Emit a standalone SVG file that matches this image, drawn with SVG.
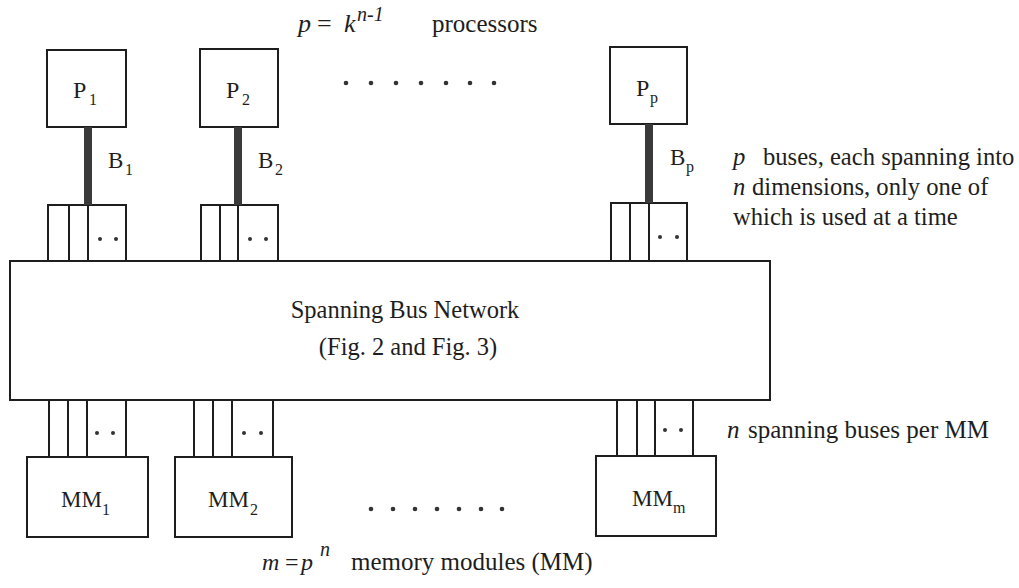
<svg xmlns="http://www.w3.org/2000/svg" width="1019" height="588" viewBox="0 0 1019 588" font-family="Liberation Serif, Times New Roman, DejaVu Serif, serif">
<style>
.box{fill:#fff;stroke:#1e1e1e;stroke-width:2}
.ln{stroke:#1e1e1e;stroke-width:2}
.bus{stroke:#3a3a3a;stroke-width:8}
.dot{fill:#333}
text{font-size:24px;fill:#1e1e1e}
.lb{font-size:23px}
.nt{font-size:24.6px}
.f245{font-size:24.5px}
.f25{font-size:25px}
.f26{font-size:26px}
.i{font-style:italic}
.sub{font-size:16px}
.sup{font-size:20px;font-style:italic}
</style>
<rect width="1019" height="588" fill="#fff"/>

<g id="title">
<text x="298" y="32" class="i f26">p</text>
<text x="317" y="32" class="f26">=</text>
<text x="344" y="32" class="i f26">k</text>
<text x="357" y="21" class="sup">n-1</text>
<text x="432" y="32" class="f25">processors</text>
</g>

<g id="topdots">
<circle class="dot" cx="346" cy="83" r="2.3"/><circle class="dot" cx="371" cy="83" r="2.3"/><circle class="dot" cx="396" cy="83" r="2.3"/><circle class="dot" cx="421" cy="83" r="2.3"/><circle class="dot" cx="446" cy="83" r="2.3"/><circle class="dot" cx="470" cy="83" r="2.3"/><circle class="dot" cx="494" cy="83" r="2.3"/>
</g>

<g id="P1">
<rect class="box" x="47" y="50" width="79" height="77"/>
<text x="73" y="98">P<tspan class="sub" x="89" y="105">1</tspan></text>
<rect class="box" x="48" y="205" width="78" height="56"/>
<line class="ln" x1="69" y1="205" x2="69" y2="261"/><line class="ln" x1="88" y1="205" x2="88" y2="261"/>
<circle class="dot" cx="100" cy="239" r="2"/><circle class="dot" cx="116" cy="239" r="2"/>
</g>

<g id="P2">
<rect class="box" x="200" y="49" width="78" height="78"/>
<text x="226" y="98">P<tspan class="sub" x="242" y="105">2</tspan></text>
<rect class="box" x="201" y="205" width="77" height="56"/>
<line class="ln" x1="220" y1="205" x2="220" y2="261"/><line class="ln" x1="238" y1="205" x2="238" y2="261"/>
<circle class="dot" cx="250" cy="239" r="2"/><circle class="dot" cx="266" cy="239" r="2"/>
</g>

<g id="Pp">
<rect class="box" x="610" y="47" width="77" height="77"/>
<text x="636" y="96">P<tspan class="sub" x="650" y="103">p</tspan></text>
<rect class="box" x="611" y="203" width="76" height="58"/>
<line class="ln" x1="630" y1="203" x2="630" y2="261"/><line class="ln" x1="649" y1="203" x2="649" y2="261"/>
<circle class="dot" cx="660" cy="237" r="2"/><circle class="dot" cx="677" cy="237" r="2"/>
</g>

<g id="network">
<rect class="box" x="10" y="261" width="760" height="139"/>
<text x="405" y="318" text-anchor="middle" class="f245">Spanning Bus Network</text>
<text x="408" y="355" text-anchor="middle" class="f245">(Fig. 2 and Fig. 3)</text>
</g>

<g id="MM1">
<rect class="box" x="49" y="400" width="77" height="57"/>
<line class="ln" x1="68" y1="400" x2="68" y2="457"/><line class="ln" x1="87" y1="400" x2="87" y2="457"/>
<circle class="dot" cx="97" cy="433" r="2"/><circle class="dot" cx="113" cy="433" r="2"/>
<rect class="box" x="27" y="457" width="121" height="80"/>
<text class="lb" x="61" y="507">MM<tspan class="sub" x="102" y="515">1</tspan></text>
</g>

<g id="MM2">
<rect class="box" x="194" y="400" width="79" height="57"/>
<line class="ln" x1="213" y1="400" x2="213" y2="457"/><line class="ln" x1="232" y1="400" x2="232" y2="457"/>
<circle class="dot" cx="244" cy="433" r="2"/><circle class="dot" cx="261" cy="433" r="2"/>
<rect class="box" x="175" y="457" width="117" height="80"/>
<text class="lb" x="208" y="507">MM<tspan class="sub" x="250" y="515">2</tspan></text>
</g>

<g id="MMm">
<rect class="box" x="617" y="400" width="76" height="56"/>
<line class="ln" x1="637" y1="400" x2="637" y2="456"/><line class="ln" x1="655" y1="400" x2="655" y2="456"/>
<circle class="dot" cx="665" cy="430" r="2"/><circle class="dot" cx="681" cy="430" r="2"/>
<rect class="box" x="596" y="456" width="120" height="80"/>
<text class="lb" x="632" y="506">MM<tspan class="sub" x="673" y="513">m</tspan></text>
</g>

<g id="bottomdots">
<circle class="dot" cx="371" cy="509" r="2.3"/><circle class="dot" cx="393" cy="509" r="2.3"/><circle class="dot" cx="415" cy="509" r="2.3"/><circle class="dot" cx="437" cy="509" r="2.3"/><circle class="dot" cx="459" cy="509" r="2.3"/><circle class="dot" cx="481" cy="509" r="2.3"/><circle class="dot" cx="502" cy="509" r="2.3"/>
</g>

<g id="connectors">
<line class="bus" x1="88" y1="127" x2="88" y2="205"/>
<line class="bus" x1="238" y1="127" x2="238" y2="205"/>
<line class="bus" x1="649" y1="124" x2="649" y2="203"/>
<text class="lb" x="108" y="168">B<tspan class="sub" x="125" y="175">1</tspan></text>
<text class="lb" x="258" y="168">B<tspan class="sub" x="275" y="175">2</tspan></text>
<text class="lb" x="670" y="165">B<tspan class="sub" x="686" y="172">p</tspan></text>
</g>

<g id="notes">
<text class="nt" x="733" y="165"><tspan class="i">p</tspan><tspan x="763">buses, each spanning into</tspan></text>
<text class="nt" x="733" y="195"><tspan class="i">n</tspan><tspan x="752">dimensions, only one of</tspan></text>
<text class="nt" x="733" y="225">which is used at a time</text>
<text x="727" y="438" class="f25"><tspan class="i">n</tspan><tspan x="748">spanning buses per MM</tspan></text>
</g>

<g id="footer">
<text x="262" y="570" class="i">m</text>
<text x="285" y="570">=</text>
<text x="301" y="570" class="i">p</text>
<text x="320" y="556" class="sup">n</text>
<text x="351" y="570" class="f25">memory modules (MM)</text>
</g>
</svg>
